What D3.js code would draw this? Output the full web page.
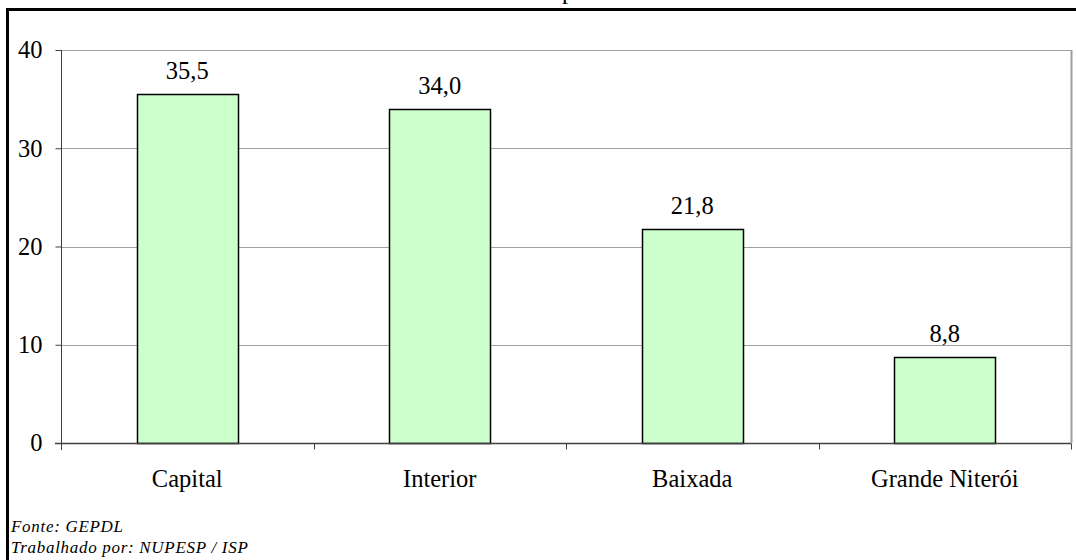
<!DOCTYPE html>
<html>
<head>
<meta charset="utf-8">
<script src="https://cdn.jsdelivr.net/npm/d3@7"></script>
<style>
  html, body { margin: 0; padding: 0; background: #fff; }
  svg { display: block; }
</style>
</head>
<body>
<svg id="chart" width="1076" height="560"></svg>
<script>
// Data
const categories = ["Capital", "Interior", "Baixada", "Grande Niterói"];
const values = [35.5, 34.0, 21.8, 8.8];
const yTicks = [0, 10, 20, 30, 40];
const sourceLines = ["Fonte: GEPDL", "Trabalhado por: NUPESP / ISP"];

const SERIF = "'Liberation Serif', 'Times New Roman', Times, serif";
const FS = 24.5;

const svg = d3.select("#chart");
const W = 1076, H = 560;
const plot = { left: 61, top: 50, right: 1071, bottom: 443 };

const x = d3.scaleBand()
  .domain(categories)
  .range([plot.left, plot.right])
  .paddingInner(0.6)
  .paddingOuter(0.3);

const y = d3.scaleLinear()
  .domain([0, 40])
  .range([plot.bottom, plot.top]);

const fmt = v => v.toFixed(1).replace(".", ",");

// Title fragment above the frame
svg.append("text")
  .style("font-family", SERIF)
  .attr("x", 568).attr("y", -1)
  .attr("text-anchor", "middle")
  .attr("font-size", FS)
  .text("p");

// Outer frame (top and left edges)
svg.append("path")
  .attr("d", `M7.5,${H} L7.5,9.5 L${W},9.5`)
  .attr("fill", "none")
  .attr("stroke", "#000")
  .attr("stroke-width", 3);

// Gridlines
svg.append("g")
  .selectAll("line")
  .data(yTicks.filter(t => t > 0))
  .join("line")
  .attr("x1", plot.left).attr("x2", plot.right)
  .attr("y1", d => Math.round(y(d)) + 0.5)
  .attr("y2", d => Math.round(y(d)) + 0.5)
  .attr("stroke", "#a0a0a0")
  .attr("stroke-width", 1);

// Plot area right edge
svg.append("line")
  .attr("x1", plot.right + 0.5).attr("x2", plot.right + 0.5)
  .attr("y1", plot.top).attr("y2", plot.bottom)
  .attr("stroke", "#a0a0a0")
  .attr("stroke-width", 2);

// Bars
svg.append("g")
  .selectAll("rect")
  .data(values)
  .join("rect")
  .attr("x", (d, i) => Math.round(x(categories[i])) + 0.5)
  .attr("y", d => Math.round(y(d)) + 0.5)
  .attr("width", x.bandwidth())
  .attr("height", d => Math.round(y(0)) - Math.round(y(d)))
  .attr("fill", "#ccffcc")
  .attr("stroke", "#000")
  .attr("stroke-width", 1.5);

// Value labels
svg.append("g")
  .selectAll("text")
  .data(values)
  .join("text")
  .style("font-family", SERIF)
  .attr("x", (d, i) => x(categories[i]) + x.bandwidth() / 2)
  .attr("y", d => y(d) - 15)
  .attr("text-anchor", "middle")
  .attr("font-size", FS)
  .text(d => fmt(d));

// Y axis
const yAxis = d3.axisLeft(y)
  .tickValues(yTicks)
  .tickSize(6)
  .tickPadding(13)
  .tickFormat(d3.format("d"));

const gy = svg.append("g")
  .attr("transform", `translate(${plot.left + 0.5},0)`)
  .call(yAxis);
gy.select(".domain").attr("stroke", "#404040").attr("d", `M0,${plot.top}V${plot.bottom + 7}`);
gy.selectAll(".tick line").attr("stroke", "#404040");
gy.selectAll(".tick text")
  .style("font-family", SERIF)
  .style("font-size", FS + "px")
  .attr("fill", "#000");

// X axis with ticks at category boundaries
const gx = svg.append("g")
  .attr("transform", `translate(0,${Math.round(plot.bottom) + 0.5})`);
gx.append("line")
  .attr("x1", plot.left - 6).attr("x2", plot.right)
  .attr("stroke", "#404040").attr("stroke-width", 1.5);
const step = x.step();
const bounds = d3.range(categories.length + 1).map(i => plot.left + i * step);
gx.selectAll("line.tick")
  .data(bounds)
  .join("line")
  .attr("class", "tick")
  .attr("x1", d => Math.round(d) + 0.5).attr("x2", d => Math.round(d) + 0.5)
  .attr("y1", 0).attr("y2", 6)
  .attr("stroke", "#404040");
gx.selectAll("text")
  .data(categories)
  .join("text")
  .style("font-family", SERIF)
  .attr("x", d => x(d) + x.bandwidth() / 2)
  .attr("y", 43)
  .attr("text-anchor", "middle")
  .attr("font-size", FS)
  .text(d => d);

// Source notes
svg.append("g")
  .selectAll("text")
  .data(sourceLines)
  .join("text")
  .style("font-family", SERIF)
  .attr("x", 11)
  .attr("y", (d, i) => 532 + i * 21)
  .attr("font-size", 17)
  .attr("font-style", "italic")
  .attr("letter-spacing", 0.7)
  .text(d => d);
</script>
</body>
</html>
